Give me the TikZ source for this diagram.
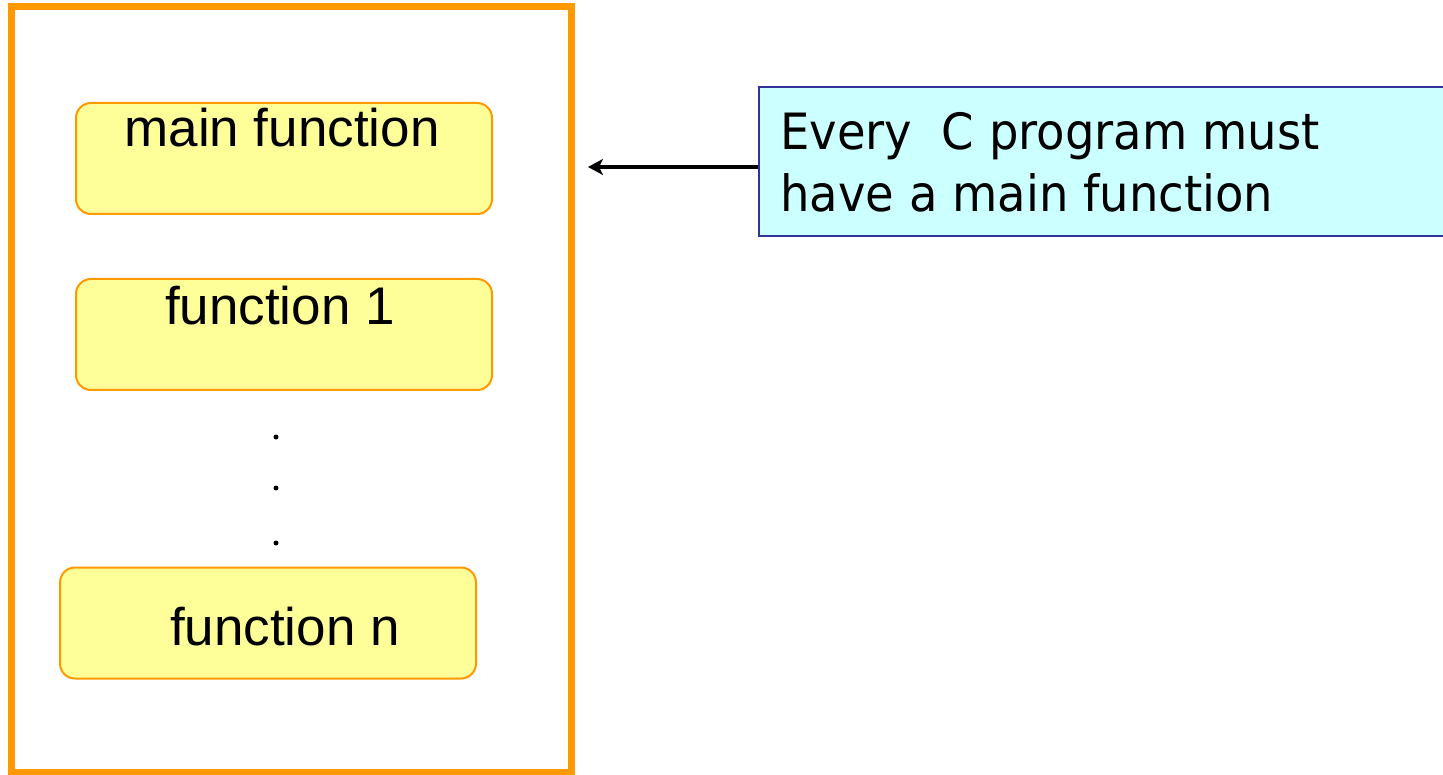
\documentclass[tikz,border=0pt]{standalone}
\usepackage{fontspec}
\setmainfont{Liberation Sans}
\newfontfamily\callfont[FakeStretch=0.93]{DejaVu Sans}
\definecolor{orng}{HTML}{FF9900}
\definecolor{ylw}{HTML}{FFFF99}
\definecolor{cyn}{HTML}{CCFFFF}
\definecolor{navy}{HTML}{333399}
\usetikzlibrary{arrows.meta}
\tikzset{
  fbox/.style={draw=orng, line width=2pt, fill=ylw, rounded corners=15pt, inner sep=0pt, minimum width=416pt, minimum height=111pt},
  ftext/.style={inner sep=0pt, anchor=base, font=\fontsize{53}{62}\selectfont},
  dotn/.style={circle, fill=black, inner sep=0pt, minimum size=5pt},
  callout/.style={draw=navy, line width=1.6pt, fill=cyn, inner sep=0pt},
}
\begin{document}
\begin{tikzpicture}[x=1pt,y=-1pt]
\useasboundingbox[fill=white] (0,0) rectangle (1443,775);
\node[draw=orng, line width=7pt, inner sep=0pt, minimum width=560pt, minimum height=765.5pt] (outer) at (291.5,389.25) {};
\node[fbox] (m) at (284,158.5) {};
\node[ftext] (mt) at (282,147) {main function};
\node[fbox] (f1) at (284,334.5) {};
\node[ftext] (f1t) at (280,325) {function 1};
\node[dotn] (d1) at (276,437) {};
\node[dotn] (d2) at (276,488) {};
\node[dotn] (d3) at (276,543) {};
\node[fbox] (fn) at (268,623) {};
\node[ftext] (fnt) at (285,645) {function n};
\node[callout, minimum width=690pt, minimum height=149pt] (c) at (1104,161.5) {};
\node[inner sep=0pt, anchor=base west, align=left, font=\callfont\fontsize{50}{62}\selectfont] (ct) at (780,212) {Every~ C program must\\have a main function};
\coordinate (tip) at (588,167);
\draw[line width=3.2pt, -{Stealth[length=15pt,width=16pt,inset=4pt]}] (c.west |- tip) -- (tip);
\end{tikzpicture}
\end{document}
